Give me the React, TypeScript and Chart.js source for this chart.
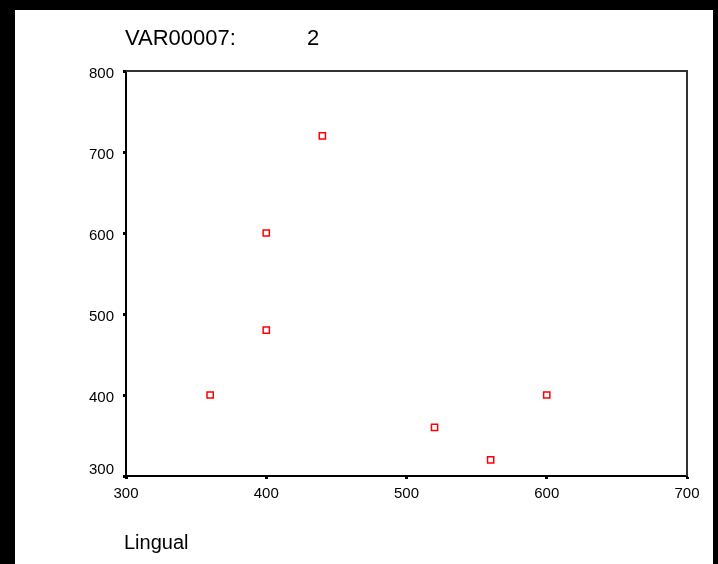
import { useEffect, useRef } from "react";
import { Chart, registerables } from "chart.js";
Chart.register(...registerables);

const lingual = [360, 400, 400, 440, 520, 560, 600];
const varValues = [400, 600, 480, 720, 360, 320, 400];
const titleLabel = "VAR00007:";
const titleValue = "2";
const xAxisTitle = "Lingual";
const xTicks = [300, 400, 500, 600, 700];
const yTicks = [300, 400, 500, 600, 700, 800];

const FONT = "'Liberation Sans', Arial, sans-serif";

export default function App() {
  const ref = useRef<HTMLCanvasElement | null>(null);
  useEffect(() => {
    document.body.style.margin = "0";
    const canvas = ref.current;
    if (!canvas) return;
    const framePlugin = {
      id: "frame",
      beforeDatasetsDraw(chart: any) {
        const { ctx, chartArea } = chart;
        ctx.save();
        ctx.strokeStyle = "#333";
        ctx.lineWidth = 2;
        ctx.beginPath();
        ctx.moveTo(chartArea.left, chartArea.top);
        ctx.lineTo(chartArea.right, chartArea.top);
        ctx.lineTo(chartArea.right, chartArea.bottom);
        ctx.stroke();
        ctx.restore();
      },
      afterDraw(chart: any) {
        const { ctx, chartArea } = chart;
        const yScale = chart.scales.y;
        ctx.save();
        ctx.fillStyle = "#000";
        // y tick labels (lowest one lifted clear of the x labels)
        ctx.font = `15px ${FONT}`;
        ctx.textAlign = "right";
        ctx.textBaseline = "middle";
        yTicks.forEach((v, i) => {
          const py = yScale.getPixelForValue(v) + (i === 0 ? -6 : 3);
          ctx.fillText(String(v), chartArea.left - 12, py);
        });
        ctx.textBaseline = "alphabetic";
        ctx.textAlign = "left";
        ctx.font = `22px ${FONT}`;
        ctx.fillText(titleLabel, chartArea.left - 1, 44.5);
        ctx.fillText(titleValue, chartArea.left + 181, 44.5);
        ctx.font = `20px ${FONT}`;
        ctx.fillText(xAxisTitle, chartArea.left - 2, 548.5);
        ctx.restore();
      },
    };
    const chart = new Chart(canvas, {
      type: "scatter",
      data: {
        datasets: [
          {
            data: lingual.map((x, i) => ({ x, y: varValues[i] })),
            pointStyle: "rect",
            pointRadius: 4.4,
            pointHoverRadius: 4.4,
            borderColor: "#ff0000",
            backgroundColor: "rgba(0,0,0,0)",
            pointBorderWidth: 1.5,
          },
        ],
      },
      options: {
        responsive: false,
        animation: false,
        devicePixelRatio: 1,
        layout: { padding: { left: 0, top: 71, right: 31, bottom: 0 } },
        plugins: { legend: { display: false }, tooltip: { enabled: false }, title: { display: false } },
        scales: {
          x: {
            type: "linear",
            min: xTicks[0],
            max: xTicks[xTicks.length - 1],
            afterBuildTicks: (s: any) => { s.ticks = xTicks.map((v) => ({ value: v })); },
            afterFit: (s: any) => { s.height = 88; },
            ticks: { color: "#000", padding: 6, font: { family: FONT, size: 15 } },
            grid: { drawOnChartArea: false, drawTicks: true, tickLength: 3, tickWidth: 3, tickColor: "#000" },
            border: { display: true, color: "#000", width: 2 },
          },
          y: {
            type: "linear",
            min: yTicks[0],
            max: yTicks[yTicks.length - 1],
            afterBuildTicks: (s: any) => { s.ticks = yTicks.map((v) => ({ value: v })); },
            afterFit: (s: any) => { s.width = 126; },
            ticks: { display: false, color: "#000", padding: 9, font: { family: FONT, size: 15 } },
            grid: { drawOnChartArea: false, drawTicks: true, tickLength: 3, tickWidth: 3, tickColor: "#000" },
            border: { display: true, color: "#000", width: 2 },
          },
        },
      },
      plugins: [framePlugin],
    } as any);
    return () => chart.destroy();
  }, []);
  return (
    <div style={{ position: "fixed", left: 0, top: 0, width: 718, height: 564, background: "#000" }}>
      <div style={{ position: "absolute", left: 15, top: 10, width: 698, height: 554, background: "#fff" }} />
      <canvas ref={ref} width={718} height={564} style={{ position: "absolute", left: 0, top: 0 }} />
    </div>
  );
}
